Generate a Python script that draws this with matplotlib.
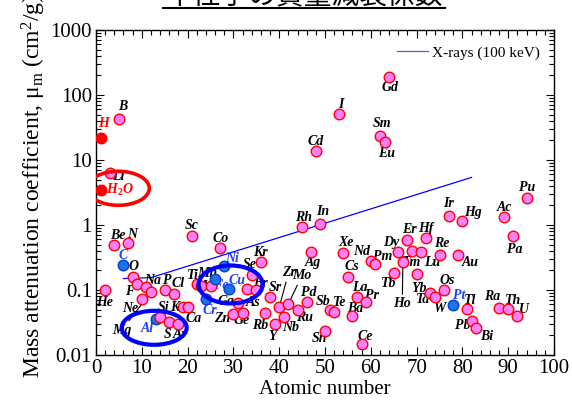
import matplotlib
matplotlib.use('Agg')
import matplotlib.pyplot as plt
from matplotlib.patches import Ellipse
from matplotlib.ticker import MultipleLocator, LogLocator, NullFormatter, FixedLocator, FixedFormatter

plt.rcParams['font.family'] = ['Liberation Serif', 'DejaVu Serif']
plt.rcParams['mathtext.fontset'] = 'custom'
plt.rcParams['mathtext.rm'] = 'Liberation Serif'
plt.rcParams['mathtext.it'] = 'Liberation Serif:italic'
plt.rcParams['mathtext.bf'] = 'Liberation Serif:bold'

# ---------------- data ----------------
elements = ['He', 'Li', 'Be', 'B', 'C', 'N', 'O', 'F', 'Ne', 'Na', 'Mg', 'Al', 'Si', 'P',
            'S', 'Cl', 'Ar', 'K', 'Ca', 'Sc', 'Ti', 'V', 'Cr', 'Mn', 'Fe', 'Co', 'Ni', 'Cu',
            'Zn', 'Ga', 'Ge', 'As', 'Se', 'Br', 'Kr', 'Rb', 'Sr', 'Y', 'Zr', 'Nb', 'Mo', 'Ru',
            'Rh', 'Pd', 'Ag', 'Cd', 'In', 'Sn', 'Sb', 'Te', 'I', 'Xe', 'Cs', 'Ba', 'La', 'Ce',
            'Pr', 'Nd', 'Pm', 'Sm', 'Eu', 'Gd', 'Tb', 'Dy', 'Ho', 'Er', 'Tm', 'Yb', 'Lu', 'Hf',
            'Ta', 'W', 'Re', 'Os', 'Ir', 'Pt', 'Au', 'Hg', 'Tl', 'Pb', 'Bi', 'Ra', 'Ac', 'Th',
            'Pa', 'U', 'Pu']
atomic_numbers = [2, 3, 4, 5, 6, 7, 8, 9, 10, 11, 12, 13, 14, 15,
                  16, 17, 18, 19, 20, 21, 22, 23, 24, 25, 26, 27, 28, 29,
                  30, 31, 32, 33, 34, 35, 36, 37, 38, 39, 40, 41, 42, 44,
                  45, 46, 47, 48, 49, 50, 51, 52, 53, 54, 55, 56, 57, 58,
                  59, 60, 61, 62, 63, 64, 65, 66, 67, 68, 69, 70, 71, 72,
                  73, 74, 75, 76, 77, 78, 79, 80, 81, 82, 83, 88, 89, 90,
                  91, 92, 94]
mass_atten = [0.10, 6.2, 0.49, 43, 0.24, 0.52, 0.16, 0.124, 0.073, 0.11, 0.092, 0.036, 0.038, 0.10,
              0.032, 0.087, 0.030, 0.054, 0.054, 0.68, 0.122, 0.116, 0.072, 0.116, 0.15, 0.44, 0.23, 0.104,
              0.043, 0.062, 0.045, 0.104, 0.17, 0.10, 0.27, 0.044, 0.077, 0.030, 0.054, 0.039, 0.061, 0.050,
              0.92, 0.066, 0.38, 13.7, 1.03, 0.023, 0.049, 0.046, 51, 0.37, 0.16, 0.040, 0.079, 0.015,
              0.066, 0.28, 0.25, 23.7, 18.9, 191, 0.185, 0.39, 0.27, 0.59, 0.40, 0.174, 0.38, 0.62,
              0.089, 0.079, 0.34, 0.10, 1.39, 0.059, 0.34, 1.16, 0.051, 0.033, 0.026, 0.053, 1.34, 0.051,
              0.68, 0.040, 2.6]
structural_metals = ['C', 'Al', 'Cr', 'Fe', 'Ni', 'Cu', 'Pt']

special_labels = ['H', 'H$_\\mathbf{2}$O']
special_x = [1, 1]
special_values = [22, 3.5]

xray_z = [6, 12, 82]
xray_mu = [0.15, 0.155, 5.4]
xray_label = 'X-rays (100 keV)'

x_ticks = [0, 10, 20, 30, 40, 50, 60, 70, 80, 90, 100]
y_ticks = [0.01, 0.1, 1, 10, 100, 1000]
y_tick_labels = ['0.01', '0.1', '1', '10', '100', '1000']

title = '中性子の質量減衰係数'
xlabel = 'Atomic number'
ylabel = 'Mass attenuation coefficient, μ$_{\\rm m}$ (cm$^{2}$/g)'

# label offsets in pixels (dx right, dy down)
offsets = {
    'H': (2.6, -14.6), 'He': (-1, 12.3), 'Li': (9, 3.4), 'Be': (3, -10), 'B': (4, -12.7),
    'C': (0, -10), 'N': (4, -9.3), 'O': (1, -10), 'F': (-7.4, 7.7), 'Ne': (-11.7, 9.3),
    'Na': (6, -7.3), 'Mg': (-29.3, 37.7), 'Al': (-8.3, 10), 'Si': (3.3, -10), 'P': (3, -10),
    'S': (-1.7, 12.7), 'Cl': (4, -10), 'Ar': (1.7, 11), 'K': (-8.4, 0), 'Ca': (6, 11),
    'Sc': (0, -10.7), 'Ti': (-3.7, -9.3), 'V': (5, 1), 'Cr': (3.6, 11.4), 'Mn': (-3, -12),
    'Fe': (5.7, 7.4), 'Co': (1.4, -9.3), 'Ni': (7.7, -7.7), 'Cu': (8.3, -8), 'Zn': (-11.6, 5),
    'Ga': (-12.3, -1.6), 'Ge': (-1, 8.4), 'As': (6, 13.7), 'Se': (-2.4, -11), 'Br': (4.3, -6.7),
    'Kr': (0, -9), 'Rb': (-5.7, 12.7), 'Sr': (5, -10), 'Y': (-1.6, 12.4), 'Zr': (9.3, -34.6),
    'Nb': (6.7, 10.6), 'Mo': (13.4, -28), 'Ru': (7, 8), 'Rh': (1, -10), 'Pd': (1.6, -9.4),
    'Ag': (1.3, 10.4), 'Cd': (0, -10), 'In': (2.7, -12.3), 'Sn': (-5.7, 7.3), 'Sb': (-6.3, -8.3),
    'Te': (6, -9), 'I': (2.4, -9.7), 'Xe': (2.7, -10.6), 'Cs': (4, -10), 'Ba': (2.3, -7.7),
    'La': (2.6, -9.4), 'Ce': (3.3, -7.3), 'Pr': (5.7, -6.7), 'Nd': (-9, -9.3), 'Pm': (7, -8),
    'Sm': (2.4, -12.4), 'Eu': (1.7, 11.3), 'Gd': (1, 10.6), 'Tb': (-5, 10.6), 'Dy': (-6.7, -9),
    'Ho': (-0.6, 41.6), 'Er': (1.6, -10), 'Tm': (0, 11.6), 'Yb': (2.3, 14), 'Lu': (10.7, 10),
    'Hf': (0, -10), 'Ta': (-7.3, 6.7), 'W': (4.7, 12.3), 'Re': (2.4, -11.7), 'Os': (2.7, -9),
    'Ir': (0, -12.7), 'Pt': (6.3, -9.3), 'Au': (12.7, 7), 'Hg': (11, -8.5), 'Tl': (3.3, -9),
    'Pb': (-9.3, 4.3), 'Bi': (10.7, 8.3), 'Ra': (-6.6, -11), 'Ac': (0.7, -9.4), 'Th': (4.6, -9),
    'Pa': (1.7, 13.6), 'U': (6.6, -6.4), 'Pu': (0.7, -11), 'H$_\\mathbf{2}$O': (19, 0),
}
leader = {'Mg', 'Zr', 'Mo', 'Ho'}

# ---------------- figure ----------------
W, H = 572, 404
fig = plt.figure(figsize=(W / 100, H / 100), dpi=100)
ax = fig.add_axes([96 / W, (H - 355) / H, (554 - 96) / W, (355 - 30) / H])
ax.set_xlim(0, 100)
ax.set_yscale('log')
ax.set_ylim(0.01, 1000)

ax.xaxis.set_major_locator(FixedLocator(x_ticks))
ax.xaxis.set_minor_locator(MultipleLocator(2))
ax.yaxis.set_major_locator(FixedLocator(y_ticks))
ax.yaxis.set_major_formatter(FixedFormatter(y_tick_labels))
ax.yaxis.set_minor_locator(LogLocator(base=10, subs=range(2, 10), numticks=20))
ax.yaxis.set_minor_formatter(NullFormatter())
ax.tick_params(which='both', direction='in', top=True, right=True, labelsize=15, width=0.8)
ax.tick_params(which='major', length=6)
ax.tick_params(which='minor', length=3.5)
ax.tick_params(axis='x', pad=3)
ax.tick_params(axis='y', pad=3)
for s in ax.spines.values():
    s.set_linewidth(1.0)

# X-ray line
ax.plot(xray_z, xray_mu, color='blue', lw=0.9, label=xray_label, zorder=2)

pink_face, red_edge = '#FF80FF', '#FF0000'
blue_face, blue_edge = '#1874E8', '#0A3CD0'
MS = 7.6
FS = 10

for name, z, v in zip(elements, atomic_numbers, mass_atten):
    is_blue = name in structural_metals
    ax.plot(z, v, 'o', ms=MS, mfc=blue_face if is_blue else pink_face,
            mec=blue_edge if is_blue else red_edge, mew=1.0, zorder=4)
    dx, dy = offsets[name]
    kw = {}
    if name in leader:
        kw['arrowprops'] = dict(arrowstyle='-', color='black', lw=0.8, shrinkA=0, shrinkB=3)
    ax.annotate(name, (z, v), xytext=(dx, -dy), textcoords='offset pixels',
                ha='center', va='center', fontsize=FS, fontweight='bold', fontstyle='italic',
                color='#2040FF' if is_blue else 'black', zorder=3, **kw)

for name, z, v in zip(special_labels, special_x, special_values):
    ax.plot(z, v, 'o', ms=MS, mfc='red', mec='red', mew=1.0, zorder=4)
    dx, dy = offsets[name]
    ax.annotate(name, (z, v), xytext=(dx, -dy), textcoords='offset pixels',
                ha='center', va='center', fontsize=FS, fontweight='bold', fontstyle='italic',
                color='red', zorder=3)

# highlight ellipses (center in data coords, size in pixels)
ellipses = [((4.87, 3.67), 62, 34, 'red', 2.6),
            ((12.7, 0.0262), 65, 34, 'blue', 3.0),
            ((29.4, 0.1216), 64, 38, 'blue', 3.0)]
aw, ah = 554 - 96, 355 - 30
for (cz, cv), w, h, col, lw in ellipses:
    cx, cy = ax.transAxes.inverted().transform(ax.transData.transform((cz, cv)))
    ax.add_patch(Ellipse((cx, cy), w / aw, h / ah, transform=ax.transAxes, fill=False,
                         edgecolor=col, lw=lw, zorder=5))

leg = ax.legend(loc='center left', bbox_to_anchor=((397 - 96) / aw, (355 - 52.7) / ah),
                frameon=False, fontsize=11, borderpad=0, borderaxespad=0,
                handlelength=2.0, handletextpad=0.3)
leg.get_lines()[0].set_color('#5555FF')

ax.set_xlabel(xlabel, fontsize=15, labelpad=1)
fig.text(34 / W, (H - 378) / H, ylabel, rotation=90, ha='center', va='bottom', fontsize=17)

# title (mostly cut off at top)
fig.text(304 / W, (H - 4.5) / H, title, ha='center', va='baseline', fontsize=20,
         family=['Noto Sans CJK JP', 'DejaVu Sans'])
fig.add_artist(plt.Line2D([163 / W, 445 / W], [(H - 7.5) / H, (H - 7.5) / H], color='black', lw=1.5))

fig.savefig('out.png', dpi=100)
